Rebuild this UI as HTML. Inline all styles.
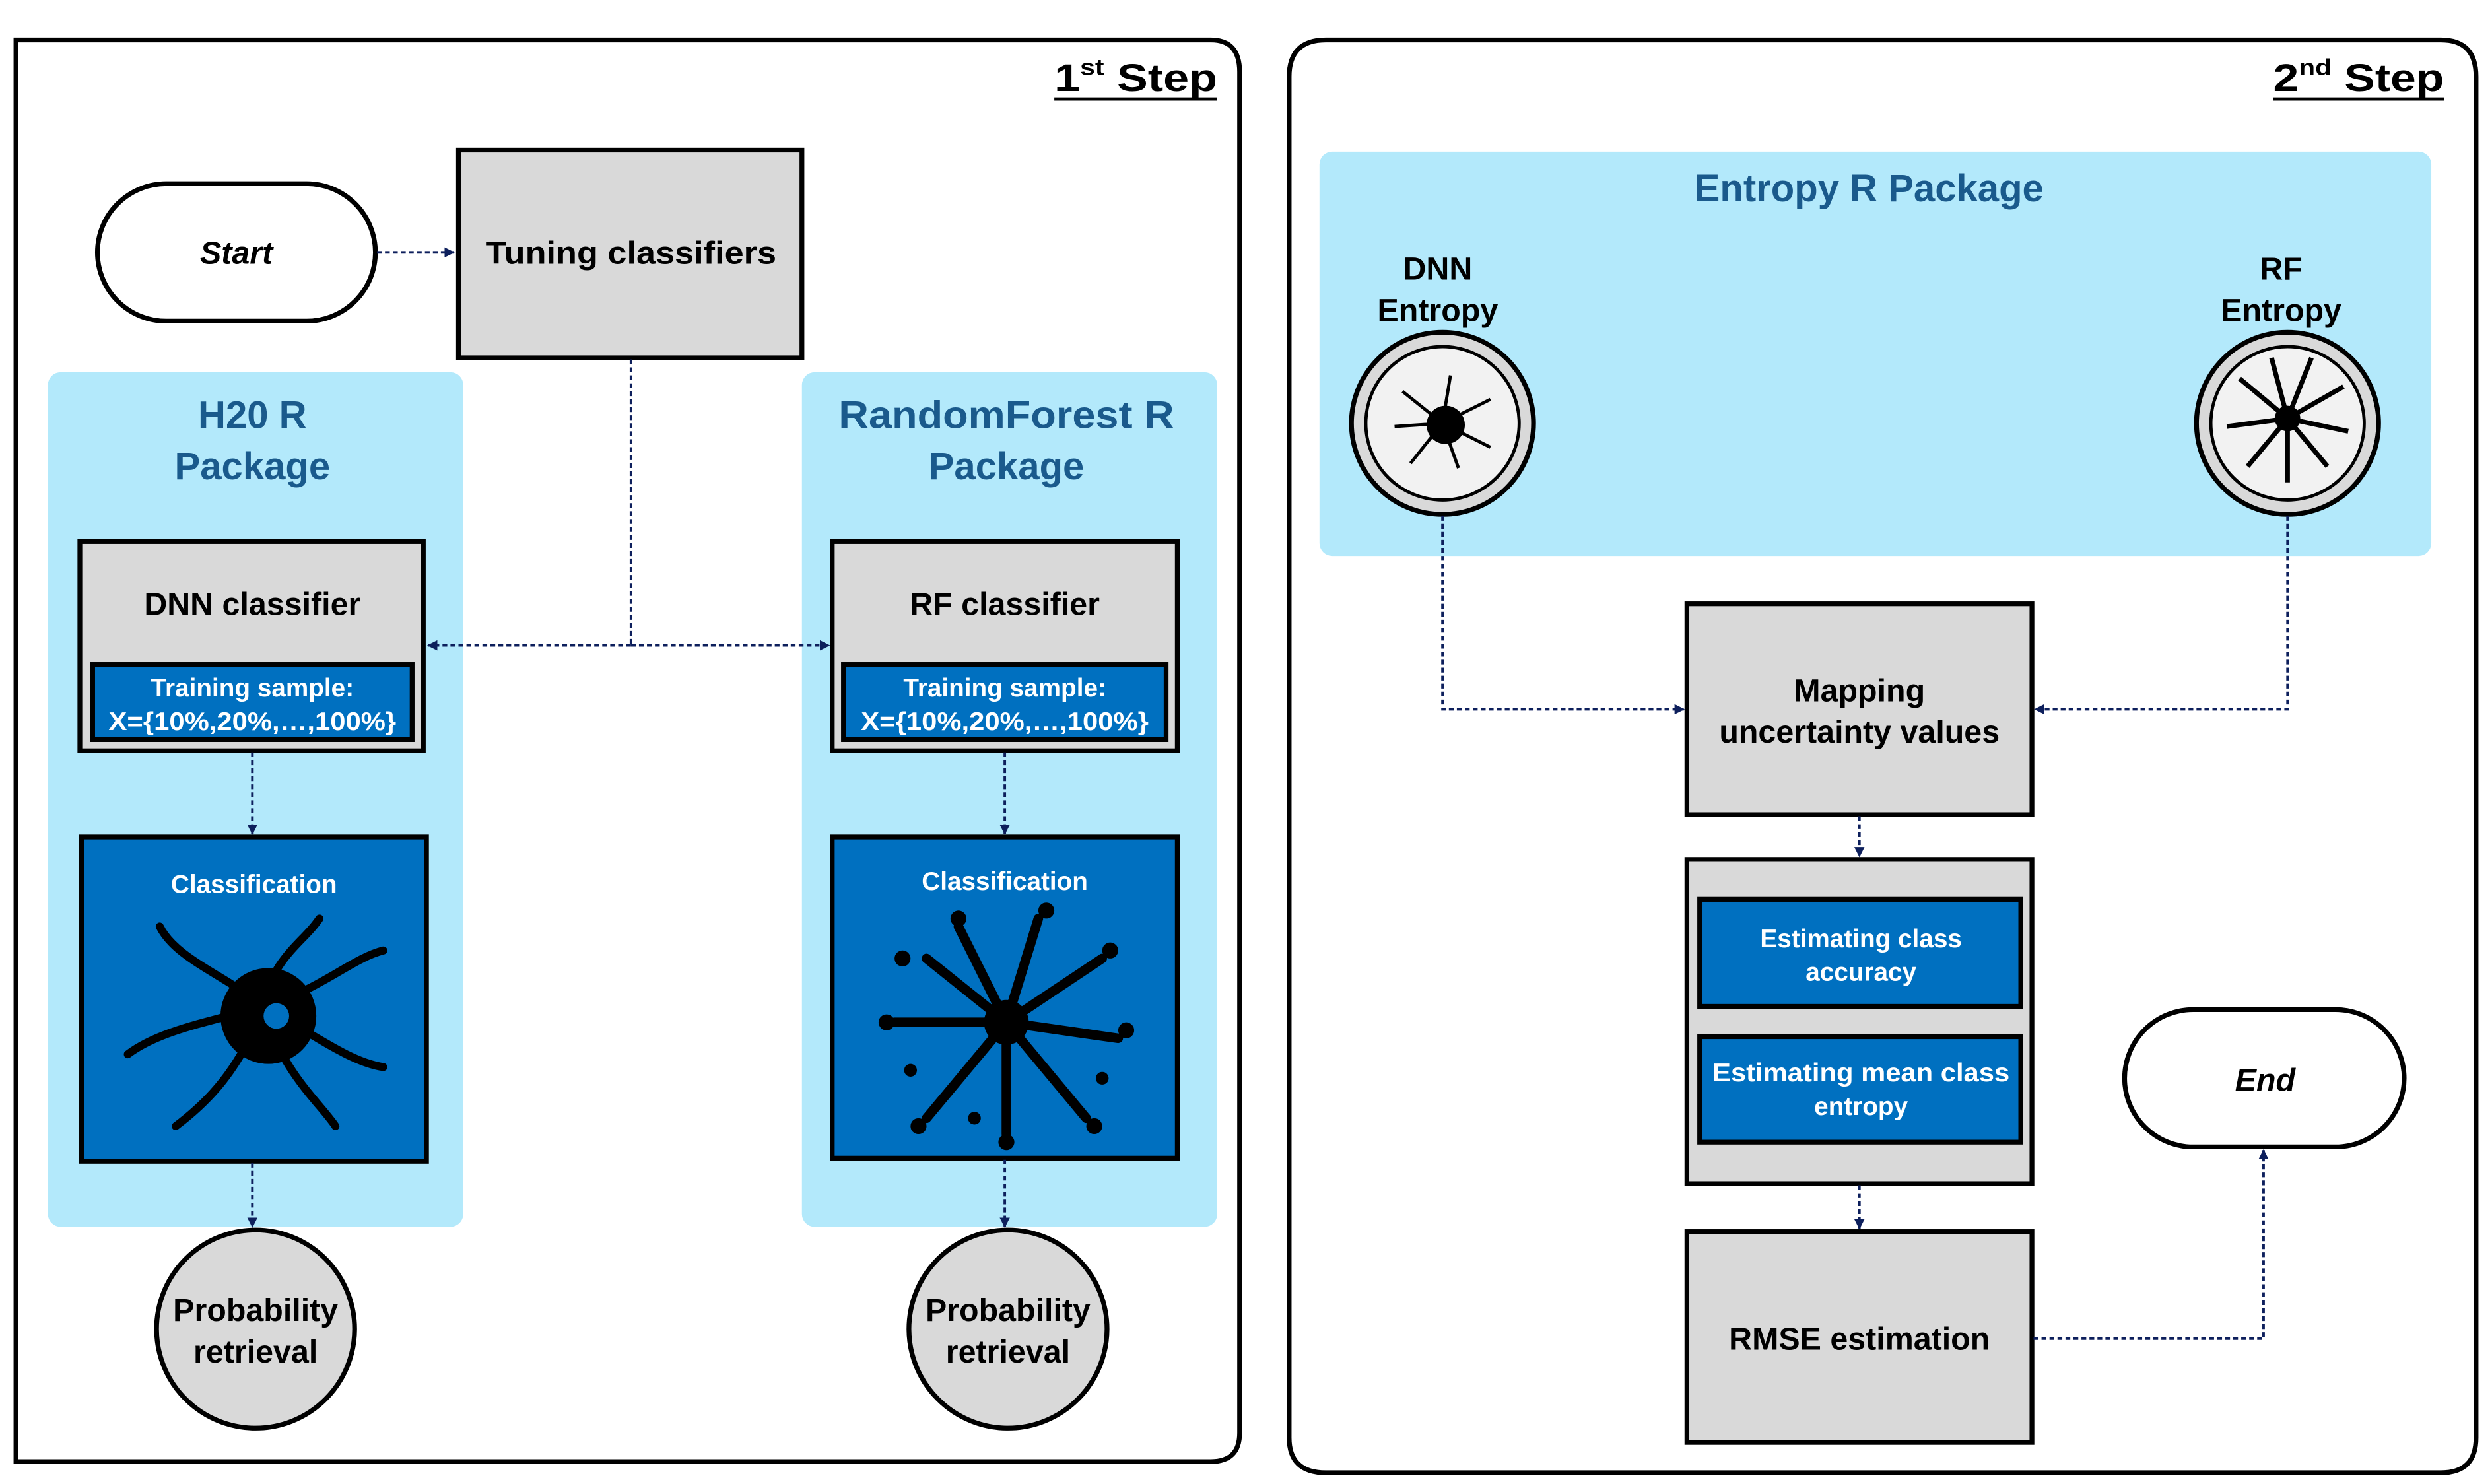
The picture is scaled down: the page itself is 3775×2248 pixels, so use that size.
<!DOCTYPE html>
<html><head><meta charset="utf-8"><style>html,body{margin:0;padding:0;background:#fff}svg{display:block}text{font-family:"Liberation Sans Narrow","Liberation Sans",sans-serif;font-weight:bold}</style></head><body>
<svg width="3775" height="2248" viewBox="0 0 1560 929" preserveAspectRatio="none" xmlns="http://www.w3.org/2000/svg">
<defs>
<marker id="a" viewBox="0 0 10 10" refX="9" refY="5" markerWidth="4" markerHeight="4" orient="auto-start-reverse"><path d="M0,0L10,5L0,10z" fill="#0d1f5c"/></marker>
</defs>
<!-- frames -->
<path d="M10,25 H758 Q776,25 776,45 V897 Q776,915 758,915 H10 Z" fill="#fff" stroke="#000" stroke-width="3"/>
<path d="M830,25 H1528 Q1550,25 1550,48 V900 Q1550,922 1528,922 H830 Q807,922 807,900 V48 Q807,25 830,25 Z" fill="#fff" stroke="#000" stroke-width="3"/>
<text x="660" y="57" font-size="24" textLength="102" lengthAdjust="spacingAndGlyphs">1<tspan font-size="14" dy="-10">st</tspan><tspan dy="10"> Step</tspan></text>
<line x1="660" y1="62" x2="762" y2="62" stroke="#000" stroke-width="2"/>
<text x="1423" y="57" font-size="24" textLength="107" lengthAdjust="spacingAndGlyphs">2<tspan font-size="14" dy="-10">nd</tspan><tspan dy="10"> Step</tspan></text>
<line x1="1423" y1="62" x2="1530" y2="62" stroke="#000" stroke-width="2"/>
<!-- blue panels -->
<rect x="30" y="233" width="260" height="535" rx="8" fill="#b3e9fb"/>
<rect x="502" y="233" width="260" height="535" rx="8" fill="#b3e9fb"/>
<rect x="826" y="95" width="696" height="253" rx="8" fill="#b3e9fb"/>
<g fill="#1a5a8c" font-size="24" text-anchor="middle">
<text x="158" y="268">H20 R</text><text x="158" y="300">Package</text>
<text x="630" y="268" textLength="210" lengthAdjust="spacingAndGlyphs">RandomForest R</text><text x="630" y="300">Package</text>
<text x="1170" y="126">Entropy R Package</text>
</g>
<!-- start -->
<rect x="61" y="115" width="174" height="86" rx="43" fill="#fff" stroke="#000" stroke-width="3"/>
<text x="148" y="165" font-size="20" font-style="italic" text-anchor="middle">Start</text>
<rect x="287" y="94" width="215" height="130" fill="#d9d9d9" stroke="#000" stroke-width="3"/>
<text x="395" y="165" font-size="20" text-anchor="middle" textLength="182" lengthAdjust="spacingAndGlyphs">Tuning classifiers</text>
<!-- classifier boxes -->
<g>
<rect x="50" y="339" width="215" height="131" fill="#d9d9d9" stroke="#000" stroke-width="3"/>
<text x="158" y="385" font-size="20" text-anchor="middle">DNN classifier</text>
<rect x="58" y="416" width="200" height="47" fill="#0070c0" stroke="#000" stroke-width="3"/>
<text x="158" y="436" font-size="16" fill="#fff" text-anchor="middle">Training sample:</text>
<text x="158" y="457" font-size="16" fill="#fff" text-anchor="middle" textLength="180" lengthAdjust="spacingAndGlyphs">X={10%,20%,…,100%}</text>
<rect x="521" y="339" width="216" height="131" fill="#d9d9d9" stroke="#000" stroke-width="3"/>
<text x="629" y="385" font-size="20" text-anchor="middle">RF classifier</text>
<rect x="528" y="416" width="202" height="47" fill="#0070c0" stroke="#000" stroke-width="3"/>
<text x="629" y="436" font-size="16" fill="#fff" text-anchor="middle">Training sample:</text>
<text x="629" y="457" font-size="16" fill="#fff" text-anchor="middle" textLength="180" lengthAdjust="spacingAndGlyphs">X={10%,20%,…,100%}</text>
</g>
<!-- classification -->
<rect x="51" y="524" width="216" height="203" fill="#0070c0" stroke="#000" stroke-width="3"/>
<text x="159" y="559" font-size="16" fill="#fff" text-anchor="middle">Classification</text>
<rect x="521" y="524" width="216" height="201" fill="#0070c0" stroke="#000" stroke-width="3"/>
<text x="629" y="557" font-size="16" fill="#fff" text-anchor="middle">Classification</text>
<!-- neuron -->
<g stroke="#000" stroke-width="5" fill="none" stroke-linecap="round">
<path d="M165,630 C140,610 110,600 100,580"/><path d="M165,630 C170,600 190,590 200,575"/>
<path d="M165,630 C200,620 220,600 240,595"/><path d="M165,630 C200,650 220,665 240,668"/>
<path d="M165,630 C175,670 200,690 210,705"/><path d="M165,630 C150,670 130,690 110,705"/>
<path d="M165,630 C130,640 100,645 80,660"/>
</g>
<circle cx="168" cy="636" r="30" fill="#000"/><circle cx="173" cy="636" r="8" fill="#0070c0"/>
<!-- tree -->
<g stroke="#000" stroke-width="6" fill="none" stroke-linecap="round">
<path d="M630,640 L580,600 M630,640 L600,580 M630,640 L650,575 M630,640 L690,600 M630,640 L700,650 M630,640 L680,700 M630,640 L630,710 M630,640 L580,700 M630,640 L560,640"/>
</g>
<circle cx="630" cy="640" r="14" fill="#000"/>
<g fill="#000"><circle cx="565" cy="600" r="5"/><circle cx="600" cy="575" r="5"/><circle cx="655" cy="570" r="5"/><circle cx="695" cy="595" r="5"/><circle cx="705" cy="645" r="5"/><circle cx="685" cy="705" r="5"/><circle cx="630" cy="715" r="5"/><circle cx="575" cy="705" r="5"/><circle cx="555" cy="640" r="5"/><circle cx="570" cy="670" r="4"/><circle cx="690" cy="675" r="4"/><circle cx="610" cy="700" r="4"/></g>
<!-- probability -->
<circle cx="160" cy="832" r="62" fill="#d9d9d9" stroke="#000" stroke-width="3"/>
<text x="160" y="827" font-size="20" text-anchor="middle">Probability</text><text x="160" y="853" font-size="20" text-anchor="middle">retrieval</text>
<circle cx="631" cy="832" r="62" fill="#d9d9d9" stroke="#000" stroke-width="3"/>
<text x="631" y="827" font-size="20" text-anchor="middle">Probability</text><text x="631" y="853" font-size="20" text-anchor="middle">retrieval</text>
<!-- entropy circles -->
<text x="900" y="175" font-size="20" text-anchor="middle">DNN</text><text x="900" y="201" font-size="20" text-anchor="middle">Entropy</text>
<text x="1428" y="175" font-size="20" text-anchor="middle">RF</text><text x="1428" y="201" font-size="20" text-anchor="middle">Entropy</text>
<circle cx="903" cy="265" r="57" fill="#d9d9d9" stroke="#000" stroke-width="3"/><circle cx="903" cy="265" r="48" fill="#f2f2f2" stroke="#000" stroke-width="2"/>
<g stroke="#000" stroke-width="2" fill="none"><path d="M903,265 l-25,-20 M903,265 l5,-30 M903,265 l30,-15 M903,265 l30,15 M903,265 l10,28 M903,265 l-20,25 M903,265 l-30,2"/></g>
<circle cx="905" cy="266" r="12" fill="#000"/>
<circle cx="1432" cy="265" r="57" fill="#d9d9d9" stroke="#000" stroke-width="3"/><circle cx="1432" cy="265" r="48" fill="#f2f2f2" stroke="#000" stroke-width="2"/>
<g stroke="#000" stroke-width="3" fill="none"><path d="M1432,262 l-30,-25 M1432,262 l-10,-38 M1432,262 l15,-38 M1432,262 l35,-20 M1432,262 l38,8 M1432,262 l25,30 M1432,262 l0,40 M1432,262 l-25,30 M1432,262 l-38,5"/></g>
<circle cx="1432" cy="262" r="8" fill="#000"/>
<!-- right boxes -->
<rect x="1056" y="378" width="216" height="132" fill="#d9d9d9" stroke="#000" stroke-width="3"/>
<text x="1164" y="439" font-size="20" text-anchor="middle">Mapping</text><text x="1164" y="465" font-size="20" text-anchor="middle">uncertainty values</text>
<rect x="1056" y="538" width="216" height="203" fill="#d9d9d9" stroke="#000" stroke-width="3"/>
<rect x="1064" y="563" width="201" height="67" fill="#0070c0" stroke="#000" stroke-width="3"/>
<text x="1165" y="593" font-size="16" fill="#fff" text-anchor="middle">Estimating class</text><text x="1165" y="614" font-size="16" fill="#fff" text-anchor="middle">accuracy</text>
<rect x="1064" y="649" width="201" height="66" fill="#0070c0" stroke="#000" stroke-width="3"/>
<text x="1165" y="677" font-size="16" fill="#fff" text-anchor="middle" textLength="186" lengthAdjust="spacingAndGlyphs">Estimating mean class</text><text x="1165" y="698" font-size="16" fill="#fff" text-anchor="middle">entropy</text>
<rect x="1056" y="771" width="216" height="132" fill="#d9d9d9" stroke="#000" stroke-width="3"/>
<text x="1164" y="845" font-size="20" text-anchor="middle">RMSE estimation</text>
<rect x="1330" y="632" width="175" height="86" rx="43" fill="#fff" stroke="#000" stroke-width="3"/>
<text x="1418" y="683" font-size="20" font-style="italic" text-anchor="middle">End</text>
<!-- connectors -->
<g stroke="#0d1f5c" stroke-width="1.6" fill="none" stroke-dasharray="3,2">
<path d="M236,158 H284" marker-end="url(#a)"/>
<path d="M395,225 V404"/>
<path d="M395,404 H268" marker-end="url(#a)"/>
<path d="M395,404 H519" marker-end="url(#a)"/>
<path d="M158,471 V522" marker-end="url(#a)"/>
<path d="M629,471 V522" marker-end="url(#a)"/>
<path d="M158,728 V768" marker-end="url(#a)"/>
<path d="M629,726 V768" marker-end="url(#a)"/>
<path d="M903,323 V444 H1054" marker-end="url(#a)"/>
<path d="M1432,323 V444 H1274" marker-end="url(#a)"/>
<path d="M1164,511 V536" marker-end="url(#a)"/>
<path d="M1164,742 V769" marker-end="url(#a)"/>
<path d="M1273,838 H1417 V720" marker-end="url(#a)"/>
</g>
</svg>
</body></html>
